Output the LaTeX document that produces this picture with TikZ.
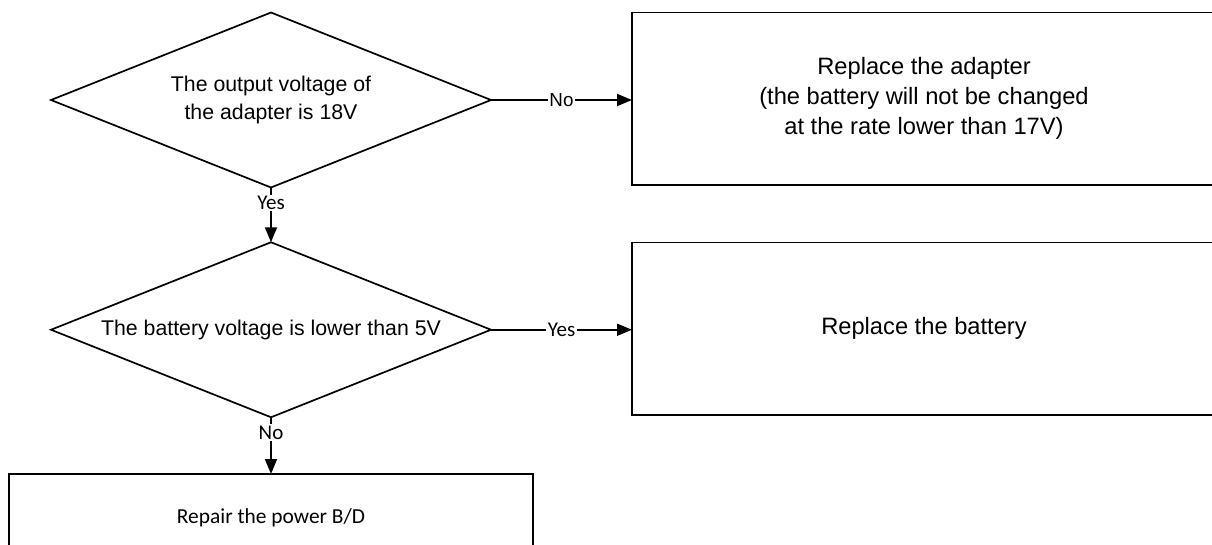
\documentclass[tikz,border=0pt]{standalone}
\usepackage{fontspec}
\setmainfont{Liberation Sans}
\newfontfamily\calfont{Carlito}
\usetikzlibrary{shapes.geometric,arrows.meta}
\begin{document}
\begin{tikzpicture}[x=1pt,y=-1pt,
  decision/.style={diamond, draw, line width=1.7pt, inner sep=0pt, outer sep=0pt, aspect=2.514, minimum width=440pt, minimum height=175pt, align=center, font=\fontsize{21.3}{27.5}\selectfont},
  action/.style={rectangle, draw, line width=1.8pt, inner sep=0pt, outer sep=0pt, align=center, font=\fontsize{23.7}{30}\selectfont},
  flow/.style={line width=1.8pt, -{Triangle[length=15pt,width=12pt]}},
  lab/.style={fill=white, inner sep=1.5pt, font=\calfont\fontsize{21}{24}\selectfont}
]
\useasboundingbox (0,0) rectangle (1212,544);
\node[decision] (d1) at (271,100) {The output voltage of\\the adapter is 18V};
\node[decision] (d2) at (271,329.75) {The battery voltage is lower than 5V};
\node[action, minimum width=584pt, minimum height=172.5pt] (b1) at (924,98.75) {Replace the adapter\\(the battery will not be changed\\at the rate lower than 17V)};
\node[action, minimum width=584pt, minimum height=172.5pt] (b2) at (924,328.75) {Replace the battery};
\node[action, minimum width=524pt, minimum height=88pt, font=\calfont\fontsize{21.4}{26}\selectfont] (b3) at (271,518) {Repair the power B/D};
\draw[flow] (d1.east) -- node[lab, font=\fontsize{18.8}{22}\selectfont] {No} (d1.east -| b1.west);
\draw[flow] (d1.south) -- node[lab, pos=0.28] {Yes} (d2.north);
\draw[flow] (d2.east) -- node[lab] {Yes} (d2.east -| b2.west);
\draw[flow] (d2.south) -- node[lab, pos=0.27] {No} (b3.north);
\end{tikzpicture}
\end{document}
